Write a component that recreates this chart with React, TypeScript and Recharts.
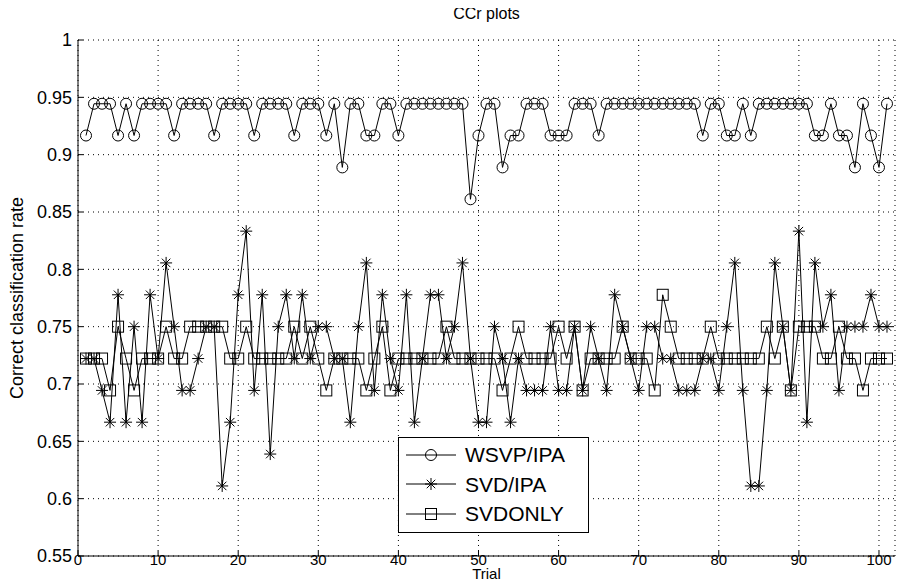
import React from "react";
import { CartesianGrid, Legend, Line, LineChart, XAxis, YAxis } from "recharts";

const trials = Array.from({ length: 101 }, (_, i) => i + 1);

const wsvpIpa = [
  0.9167, 0.9444, 0.9444, 0.9444, 0.9167, 0.9444, 0.9167, 0.9444, 0.9444, 0.9444,
  0.9444, 0.9167, 0.9444, 0.9444, 0.9444, 0.9444, 0.9167, 0.9444, 0.9444, 0.9444,
  0.9444, 0.9167, 0.9444, 0.9444, 0.9444, 0.9444, 0.9167, 0.9444, 0.9444, 0.9444,
  0.9167, 0.9444, 0.8889, 0.9444, 0.9444, 0.9167, 0.9167, 0.9444, 0.9444, 0.9167,
  0.9444, 0.9444, 0.9444, 0.9444, 0.9444, 0.9444, 0.9444, 0.9444, 0.8611, 0.9167,
  0.9444, 0.9444, 0.8889, 0.9167, 0.9167, 0.9444, 0.9444, 0.9444, 0.9167, 0.9167,
  0.9167, 0.9444, 0.9444, 0.9444, 0.9167, 0.9444, 0.9444, 0.9444, 0.9444, 0.9444,
  0.9444, 0.9444, 0.9444, 0.9444, 0.9444, 0.9444, 0.9444, 0.9167, 0.9444, 0.9444,
  0.9167, 0.9167, 0.9444, 0.9167, 0.9444, 0.9444, 0.9444, 0.9444, 0.9444, 0.9444,
  0.9444, 0.9167, 0.9167, 0.9444, 0.9167, 0.9167, 0.8889, 0.9444, 0.9167, 0.8889,
  0.9444,
];

const svdIpa = [
  0.7222, 0.7222, 0.6944, 0.6667, 0.7778, 0.6667, 0.75, 0.6667, 0.7778, 0.7222,
  0.8056, 0.75, 0.6944, 0.6944, 0.7222, 0.75, 0.75, 0.6111, 0.6667, 0.7778,
  0.8333, 0.6944, 0.7778, 0.6389, 0.75, 0.7778, 0.7222, 0.7778, 0.7222, 0.75,
  0.75, 0.7222, 0.7222, 0.6667, 0.75, 0.8056, 0.6944, 0.7778, 0.7222, 0.6944,
  0.7778, 0.6667, 0.7222, 0.7778, 0.7778, 0.7222, 0.75, 0.8056, 0.7222, 0.6667,
  0.6667, 0.75, 0.7222, 0.6667, 0.7222, 0.6944, 0.6944, 0.6944, 0.75, 0.6944,
  0.6944, 0.75, 0.6944, 0.75, 0.7222, 0.6944, 0.7778, 0.75, 0.7222, 0.6944,
  0.75, 0.75, 0.7222, 0.7222, 0.6944, 0.6944, 0.6944, 0.7222, 0.7222, 0.6944,
  0.75, 0.8056, 0.6944, 0.6111, 0.6111, 0.6944, 0.8056, 0.75, 0.6944, 0.8333,
  0.6667, 0.8056, 0.75, 0.7778, 0.6944, 0.75, 0.75, 0.75, 0.7778, 0.75,
  0.75,
];

const svdOnly = [
  0.7222, 0.7222, 0.7222, 0.6944, 0.75, 0.7222, 0.6944, 0.7222, 0.7222, 0.7222,
  0.75, 0.7222, 0.7222, 0.75, 0.75, 0.75, 0.75, 0.75, 0.7222, 0.7222,
  0.75, 0.7222, 0.7222, 0.7222, 0.7222, 0.7222, 0.75, 0.7222, 0.75, 0.7222,
  0.6944, 0.7222, 0.7222, 0.7222, 0.7222, 0.6944, 0.7222, 0.75, 0.6944, 0.7222,
  0.7222, 0.7222, 0.7222, 0.7222, 0.7222, 0.75, 0.7222, 0.7222, 0.7222, 0.7222,
  0.7222, 0.7222, 0.6944, 0.7222, 0.75, 0.7222, 0.7222, 0.7222, 0.7222, 0.75,
  0.7222, 0.75, 0.6944, 0.7222, 0.7222, 0.7222, 0.7222, 0.75, 0.7222, 0.7222,
  0.7222, 0.6944, 0.7778, 0.75, 0.7222, 0.7222, 0.7222, 0.7222, 0.75, 0.7222,
  0.7222, 0.7222, 0.7222, 0.7222, 0.7222, 0.75, 0.7222, 0.75, 0.6944, 0.75,
  0.75, 0.75, 0.7222, 0.7222, 0.75, 0.7222, 0.7222, 0.6944, 0.7222, 0.7222,
  0.7222,
];

const xTicks = [0, 10, 20, 30, 40, 50, 60, 70, 80, 90, 100];
const yTicks = [0.55, 0.6, 0.65, 0.7, 0.75, 0.8, 0.85, 0.9, 0.95, 1];

const data = trials.map((t, i) => ({
  trial: t,
  wsvp: wsvpIpa[i],
  svdipa: svdIpa[i],
  svdonly: svdOnly[i],
}));

const font = "'Liberation Sans', Arial, Helvetica, sans-serif";

const circleMark = (cx: number, cy: number, key?: any) => (
  <circle key={key} cx={cx} cy={cy} r={5.5} fill="none" stroke="#000" strokeWidth={1} />
);

const starMark = (cx: number, cy: number, key?: any) => {
  const r = 6;
  const d = r * 0.707;
  return (
    <g key={key} stroke="#000" strokeWidth={1}>
      <line x1={cx - r} y1={cy} x2={cx + r} y2={cy} />
      <line x1={cx} y1={cy - r} x2={cx} y2={cy + r} />
      <line x1={cx - d} y1={cy - d} x2={cx + d} y2={cy + d} />
      <line x1={cx - d} y1={cy + d} x2={cx + d} y2={cy - d} />
    </g>
  );
};

const squareMark = (cx: number, cy: number, key?: any) => (
  <rect key={key} x={cx - 5.5} y={cy - 5.5} width={11} height={11} fill="none" stroke="#000" strokeWidth={1} />
);

const dotFrom = (mark: typeof circleMark) => (props: any) => {
  const { cx, cy, index } = props;
  if (cx == null || cy == null) return <g key={index} />;
  return mark(cx, cy, index);
};

const legendItems = [
  { name: "WSVP/IPA", mark: circleMark },
  { name: "SVD/IPA", mark: starMark },
  { name: "SVDONLY", mark: squareMark },
];

const renderLegend = () => (
  <div
    style={{
      width: 189,
      height: 92,
      border: "1px solid #000",
      background: "#fff",
      fontFamily: font,
      fontSize: 21,
      paddingTop: 2,
      boxSizing: "content-box",
    }}
  >
    {legendItems.map((it) => (
      <div key={it.name} style={{ display: "flex", alignItems: "center", height: 29.5 }}>
        <svg width={62} height={20} style={{ marginLeft: 4 }}>
          <line x1={3} y1={10} x2={53} y2={10} stroke="#000" strokeWidth={1} />
          {it.mark(28, 10)}
        </svg>
        <span style={{ lineHeight: "21px" }}>{it.name}</span>
      </div>
    ))}
  </div>
);

export default function App() {
  return (
    <div style={{ position: "relative", width: 898, height: 574 }}>
      <div
        style={{
          position: "absolute",
          left: 70,
          width: 817,
          top: -3,
          textAlign: "center",
          fontFamily: font,
          fontSize: 16,
          lineHeight: "18px",
        }}
      >
        CCr plots
      </div>
      <div
        style={{
          position: "absolute",
          left: 9,
          top: 290,
          transform: "translate(-50%, -50%) rotate(-90deg)",
          whiteSpace: "nowrap",
          fontFamily: font,
          fontSize: 18,
          lineHeight: "18px",
        }}
      >
        Correct classification rate
      </div>
      <LineChart width={898} height={574} data={data} margin={{ top: 32, right: 11, bottom: 0, left: 10 }}>
        <CartesianGrid stroke="#000" strokeDasharray="1 4" />
        <XAxis
          dataKey="trial"
          type="number"
          domain={[0, 102]}
          ticks={xTicks}
          allowDataOverflow
          height={26}
          stroke="#000"
          tickSize={-5}
          tickMargin={3}
          tick={{ fontSize: 15, fill: "#000", fontFamily: font }}
          label={{ value: "Trial", position: "insideBottom", offset: 3, fill: "#000", fontSize: 15, fontFamily: font }}
        />
        <XAxis
          xAxisId="top"
          orientation="top"
          dataKey="trial"
          type="number"
          domain={[0, 102]}
          ticks={xTicks}
          allowDataOverflow
          height={0}
          stroke="#000"
          tickSize={-5}
          tickFormatter={() => ""}
        />
        <YAxis
          domain={[0.55, 1]}
          ticks={yTicks}
          allowDataOverflow
          width={60}
          stroke="#000"
          tickSize={-5}
          tickMargin={11}
          tick={{ fontSize: 18, fill: "#000", fontFamily: font }}
          tickFormatter={(v: number) => String(Number(v.toFixed(2)))}
        />
        <YAxis
          yAxisId="right"
          orientation="right"
          domain={[0.55, 1]}
          ticks={yTicks}
          allowDataOverflow
          width={0}
          stroke="#000"
          tickSize={-5}
          tickFormatter={() => ""}
        />
        <Legend
          layout="vertical"
          align="center"
          verticalAlign="middle"
          content={renderLegend}
          wrapperStyle={{ left: 390, top: 429, width: 191, height: 96 }}
        />
        <Line
          type="linear"
          dataKey="wsvp"
          name="WSVP/IPA"
          stroke="#000"
          strokeWidth={1}
          dot={dotFrom(circleMark)}
          activeDot={false}
          isAnimationActive={false}
        />
        <Line
          type="linear"
          dataKey="svdipa"
          name="SVD/IPA"
          stroke="#000"
          strokeWidth={1}
          dot={dotFrom(starMark)}
          activeDot={false}
          isAnimationActive={false}
        />
        <Line
          type="linear"
          dataKey="svdonly"
          name="SVDONLY"
          stroke="#000"
          strokeWidth={1}
          dot={dotFrom(squareMark)}
          activeDot={false}
          isAnimationActive={false}
        />
      </LineChart>
    </div>
  );
}
